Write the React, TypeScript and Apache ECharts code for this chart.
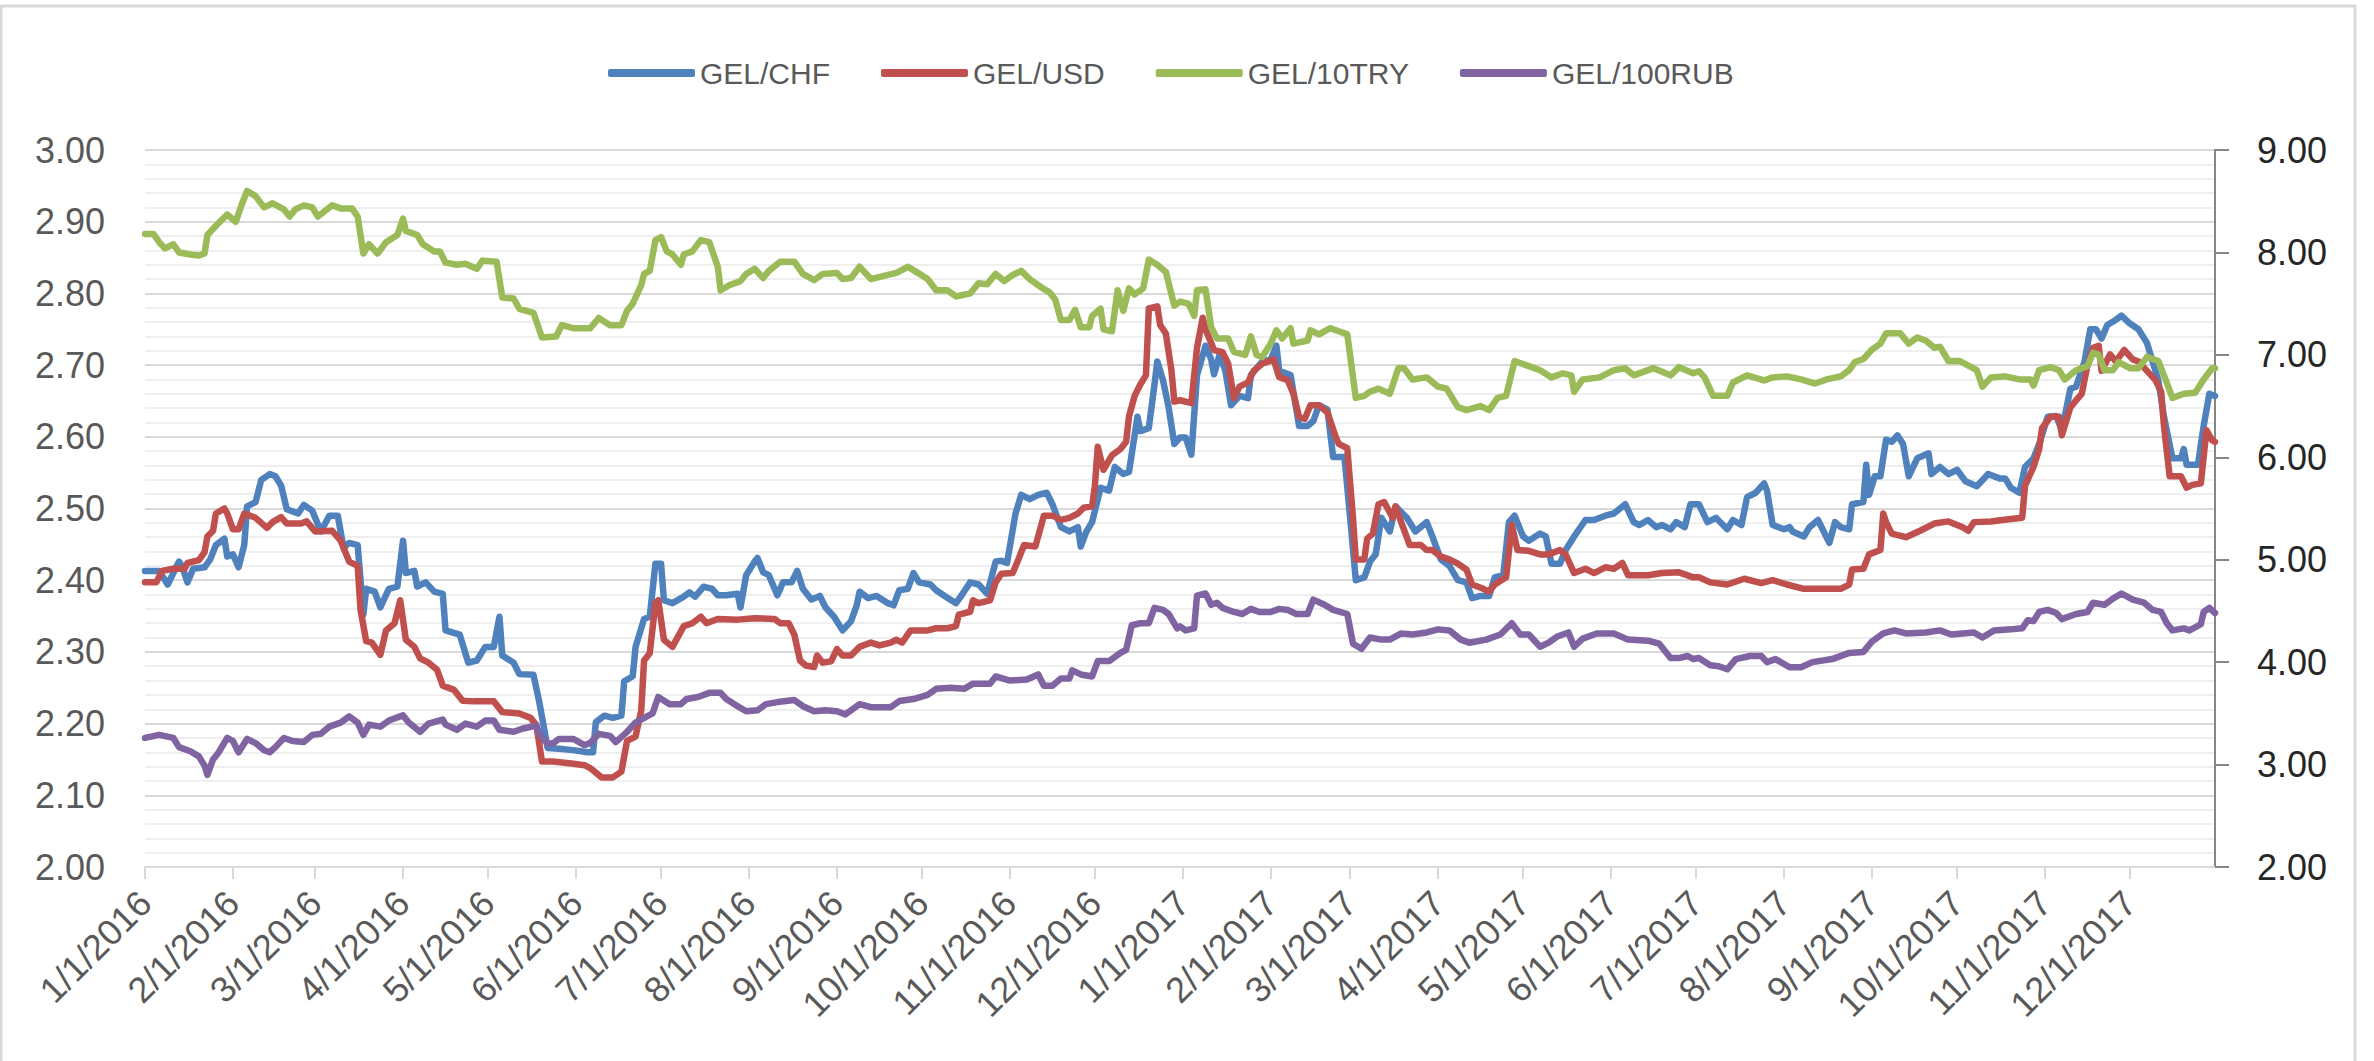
import React, { useEffect, useRef } from "react";
import * as echarts from "echarts";

// ---------- data ----------
// x positions are day offsets from 1/1/2016 (category index on the daily axis)
const START_UTC = Date.UTC(2016, 0, 1);
const DAY_COUNT = 731; // 1/1/2016 .. 12/31/2017

const SERIES_NAMES = ["GEL/CHF", "GEL/USD", "GEL/10TRY", "GEL/100RUB"];
const SERIES_COLORS = ["#4F81BD", "#C0504D", "#9BBB59", "#8064A2"];
const SERIES_AXIS = [0, 0, 1, 1]; // left axis for CHF & USD, right axis for 10TRY & 100RUB

const LEFT_MIN = 2.0, LEFT_MAX = 3.0, LEFT_STEP = 0.1;
const RIGHT_MIN = 2.0, RIGHT_MAX = 9.0, RIGHT_STEP = 1.0;

const CHF: [number, number][] = [
  [0,2.413],[5,2.413],[8,2.394],[10,2.41],[12,2.426],[13,2.42],[15,2.397],[17,2.416],[21,2.418],[23,2.429],
  [25,2.449],[28,2.458],[29,2.433],[31,2.436],[33,2.418],[35,2.449],[36,2.503],[39,2.509],[41,2.54],[44,2.548],
  [46,2.545],[48,2.532],[50,2.499],[54,2.493],[56,2.505],[59,2.497],[62,2.468],[65,2.49],[68,2.49],[70,2.445],
  [72,2.452],[75,2.449],[77,2.352],[78,2.388],[81,2.384],[83,2.362],[86,2.388],[89,2.391],[91,2.455],[92,2.41],
  [95,2.413],[96,2.391],[99,2.397],[102,2.384],[105,2.381],[106,2.33],[111,2.324],[114,2.285],[117,2.288],[120,2.307],
  [123,2.307],[125,2.349],[126,2.295],[130,2.285],[132,2.269],[137,2.268],[139,2.231],[142,2.166],[146,2.165],[151,2.163],
  [156,2.16],[158,2.16],[159,2.202],[162,2.211],[165,2.208],[168,2.211],[169,2.259],[172,2.266],[173,2.307],[176,2.346],
  [178,2.349],[180,2.423],[182,2.423],[183,2.372],[186,2.368],[190,2.377],[192,2.383],[194,2.377],[197,2.391],[200,2.388],
  [202,2.379],[205,2.379],[209,2.381],[210,2.362],[212,2.407],[215,2.426],[216,2.431],[218,2.411],[220,2.407],[223,2.379],
  [225,2.397],[228,2.397],[230,2.413],[232,2.388],[235,2.373],[238,2.378],[240,2.362],[243,2.349],[246,2.33],[249,2.343],
  [251,2.365],[252,2.384],[255,2.375],[258,2.378],[262,2.368],[264,2.365],[266,2.386],[269,2.388],[271,2.41],[273,2.397],
  [277,2.394],[279,2.386],[282,2.378],[286,2.368],[288,2.379],[291,2.397],[294,2.394],[297,2.381],[300,2.426],[302,2.427],
  [304,2.424],[307,2.493],[309,2.519],[312,2.513],[315,2.519],[318,2.522],[320,2.506],[323,2.474],[326,2.468],[329,2.474],
  [330,2.447],[332,2.468],[334,2.481],[337,2.529],[340,2.525],[342,2.558],[345,2.548],[347,2.551],[350,2.628],[351,2.608],
  [354,2.612],[356,2.673],[357,2.705],[359,2.679],[361,2.641],[363,2.59],[365,2.599],[367,2.599],[369,2.575],[371,2.686],
  [374,2.727],[376,2.708],[377,2.687],[379,2.715],[381,2.692],[383,2.644],[386,2.657],[389,2.654],[390,2.686],[394,2.705],
  [397,2.708],[399,2.727],[400,2.692],[404,2.686],[407,2.615],[410,2.615],[412,2.622],[414,2.644],[417,2.638],[419,2.572],
  [423,2.572],[425,2.487],[427,2.4],[430,2.404],[432,2.426],[434,2.436],[436,2.487],[439,2.468],[441,2.503],[445,2.487],
  [448,2.468],[452,2.481],[454,2.461],[457,2.429],[460,2.42],[463,2.4],[466,2.397],[468,2.375],[471,2.378],[474,2.378],
  [476,2.404],[479,2.407],[481,2.481],[483,2.49],[486,2.461],[488,2.455],[492,2.465],[494,2.461],[496,2.423],[499,2.423],
  [501,2.442],[504,2.461],[508,2.484],[511,2.484],[515,2.49],[518,2.493],[522,2.506],[525,2.481],[527,2.477],[530,2.484],
  [533,2.474],[535,2.477],[538,2.471],[540,2.481],[543,2.474],[545,2.506],[548,2.506],[551,2.481],[554,2.487],[558,2.471],
  [560,2.484],[563,2.477],[565,2.516],[568,2.522],[571,2.535],[572,2.525],[574,2.477],[578,2.471],[580,2.474],[581,2.468],
  [585,2.461],[587,2.474],[590,2.484],[594,2.452],[596,2.481],[598,2.474],[601,2.471],[602,2.506],[606,2.509],[607,2.561],
  [608,2.519],[610,2.545],[612,2.545],[614,2.596],[616,2.593],[618,2.602],[620,2.59],[622,2.545],[625,2.57],[629,2.577],
  [630,2.548],[633,2.558],[636,2.548],[639,2.554],[642,2.538],[646,2.531],[650,2.548],[654,2.542],[656,2.542],[658,2.529],
  [661,2.522],[663,2.558],[666,2.57],[668,2.59],[671,2.628],[674,2.629],[676,2.609],[679,2.667],[681,2.67],[684,2.705],
  [686,2.75],[688,2.75],[690,2.737],[692,2.756],[695,2.763],[697,2.769],[700,2.758],[703,2.75],[706,2.731],[708,2.705],
  [710,2.679],[712,2.628],[715,2.57],[718,2.57],[719,2.583],[720,2.561],[724,2.561],[726,2.615],[728,2.66],[730,2.657]
];

const USD: [number, number][] = [
  [0,2.397],[4,2.397],[6,2.413],[10,2.416],[14,2.416],[15,2.424],[19,2.428],[21,2.439],[22,2.461],[24,2.469],
  [25,2.493],[28,2.5],[29,2.493],[31,2.471],[33,2.471],[35,2.493],[39,2.487],[43,2.473],[45,2.481],[48,2.488],
  [50,2.479],[55,2.479],[57,2.482],[60,2.468],[66,2.469],[69,2.455],[72,2.426],[75,2.42],[76,2.359],[78,2.315],
  [80,2.313],[83,2.296],[85,2.33],[88,2.34],[90,2.372],[92,2.317],[95,2.307],[97,2.291],[100,2.285],[103,2.275],
  [105,2.253],[109,2.247],[112,2.232],[116,2.231],[123,2.231],[126,2.216],[132,2.214],[136,2.208],[138,2.198],[140,2.147],
  [144,2.147],[151,2.144],[155,2.142],[157,2.138],[161,2.125],[165,2.125],[168,2.133],[170,2.176],[173,2.182],[175,2.218],
  [176,2.288],[178,2.298],[180,2.368],[181,2.372],[183,2.317],[186,2.307],[190,2.336],[193,2.34],[196,2.349],[198,2.34],
  [202,2.346],[209,2.345],[215,2.347],[222,2.346],[224,2.34],[227,2.34],[229,2.324],[231,2.288],[233,2.281],[236,2.279],
  [237,2.295],[239,2.285],[242,2.287],[244,2.304],[246,2.295],[249,2.295],[252,2.307],[256,2.313],[259,2.309],[263,2.313],
  [265,2.317],[267,2.313],[270,2.33],[276,2.33],[279,2.333],[283,2.333],[286,2.336],[287,2.352],[291,2.356],[292,2.372],
  [294,2.368],[298,2.372],[300,2.397],[302,2.409],[306,2.41],[308,2.429],[310,2.449],[314,2.447],[317,2.49],[320,2.49],
  [323,2.484],[326,2.487],[329,2.493],[331,2.501],[334,2.503],[335,2.532],[336,2.586],[338,2.554],[341,2.574],[344,2.583],
  [346,2.593],[347,2.628],[349,2.657],[351,2.673],[353,2.686],[354,2.779],[357,2.782],[358,2.756],[360,2.744],[362,2.692],
  [363,2.649],[365,2.651],[369,2.647],[371,2.724],[373,2.766],[374,2.75],[377,2.721],[380,2.718],[382,2.702],[384,2.654],
  [386,2.67],[389,2.676],[391,2.692],[394,2.702],[398,2.708],[400,2.683],[403,2.679],[405,2.66],[407,2.628],[409,2.625],
  [411,2.644],[414,2.644],[417,2.634],[420,2.599],[421,2.59],[424,2.584],[426,2.487],[427,2.429],[430,2.429],[431,2.458],
  [433,2.465],[435,2.506],[437,2.509],[440,2.487],[441,2.503],[443,2.481],[446,2.449],[450,2.449],[452,2.442],[454,2.442],
  [457,2.433],[460,2.429],[463,2.423],[466,2.415],[468,2.394],[472,2.388],[474,2.384],[476,2.394],[480,2.404],[482,2.477],
  [484,2.442],[488,2.441],[492,2.436],[495,2.436],[499,2.442],[501,2.436],[504,2.41],[508,2.416],[511,2.41],[515,2.418],
  [518,2.416],[521,2.424],[523,2.407],[530,2.407],[535,2.41],[541,2.411],[546,2.404],[548,2.404],[552,2.397],[558,2.394],
  [564,2.402],[570,2.396],[574,2.4],[579,2.394],[585,2.388],[591,2.388],[598,2.388],[601,2.394],[602,2.415],[606,2.416],
  [608,2.436],[612,2.442],[613,2.493],[614,2.481],[616,2.465],[621,2.46],[626,2.469],[631,2.479],[636,2.482],[641,2.474],
  [643,2.469],[645,2.481],[651,2.482],[655,2.484],[662,2.487],[663,2.532],[666,2.558],[668,2.583],[669,2.612],[672,2.628],
  [675,2.628],[676,2.602],[679,2.641],[681,2.651],[683,2.66],[685,2.699],[687,2.724],[689,2.727],[690,2.692],[693,2.715],
  [695,2.705],[698,2.721],[701,2.708],[703,2.705],[706,2.692],[709,2.679],[711,2.663],[712,2.615],[714,2.545],[718,2.545],
  [720,2.529],[722,2.533],[725,2.535],[727,2.609],[729,2.595],[730,2.593]
];

const TRY10: [number, number][] = [
  [0,8.18],[3,8.18],[5,8.1],[7,8.04],[10,8.08],[12,8.0],[16,7.98],[19,7.97],[21,7.99],[22,8.17],
  [25,8.26],[29,8.37],[32,8.3],[34,8.46],[36,8.6],[39,8.55],[42,8.44],[45,8.48],[49,8.42],[51,8.35],
  [53,8.42],[56,8.46],[59,8.44],[61,8.35],[66,8.46],[69,8.43],[73,8.43],[75,8.35],[77,7.99],[79,8.08],
  [82,7.99],[85,8.1],[89,8.17],[91,8.33],[92,8.21],[96,8.17],[98,8.08],[102,8.01],[104,8.01],[106,7.9],
  [110,7.88],[113,7.89],[117,7.84],[119,7.92],[124,7.91],[126,7.56],[130,7.55],[132,7.45],[137,7.41],[140,7.17],
  [145,7.18],[147,7.29],[151,7.26],[157,7.26],[160,7.36],[164,7.29],[168,7.29],[170,7.43],[172,7.5],[175,7.68],
  [176,7.79],[178,7.82],[180,8.12],[182,8.15],[184,8.01],[186,7.98],[189,7.88],[190,7.98],[193,8.01],[196,8.12],
  [199,8.1],[202,7.86],[203,7.63],[206,7.68],[210,7.72],[212,7.79],[215,7.84],[218,7.75],[220,7.82],[224,7.91],
  [229,7.91],[232,7.79],[236,7.73],[239,7.79],[244,7.8],[246,7.74],[249,7.75],[252,7.86],[256,7.74],[262,7.78],
  [265,7.8],[269,7.86],[272,7.81],[276,7.74],[279,7.63],[283,7.63],[286,7.57],[291,7.6],[294,7.7],[297,7.69],
  [300,7.79],[303,7.72],[306,7.78],[309,7.82],[312,7.74],[316,7.66],[319,7.61],[321,7.54],[323,7.34],[326,7.34],
  [328,7.44],[330,7.27],[333,7.27],[334,7.38],[337,7.45],[338,7.25],[341,7.23],[343,7.63],[345,7.43],[347,7.65],
  [349,7.59],[352,7.65],[354,7.93],[357,7.88],[360,7.81],[363,7.48],[365,7.52],[368,7.5],[370,7.38],[371,7.63],
  [374,7.64],[376,7.27],[378,7.16],[382,7.16],[384,7.03],[388,7.0],[390,7.18],[392,7.0],[394,6.98],[397,7.11],
  [399,7.24],[401,7.16],[404,7.26],[405,7.11],[410,7.14],[411,7.24],[414,7.2],[418,7.26],[421,7.23],[424,7.2],
  [427,6.58],[430,6.6],[432,6.64],[435,6.67],[439,6.62],[442,6.87],[444,6.87],[447,6.76],[452,6.78],[456,6.69],
  [459,6.67],[463,6.49],[466,6.46],[471,6.5],[474,6.46],[477,6.58],[480,6.6],[483,6.94],[487,6.9],[492,6.85],
  [496,6.78],[500,6.82],[503,6.8],[504,6.64],[507,6.76],[513,6.78],[518,6.85],[522,6.87],[525,6.8],[532,6.87],
  [538,6.8],[541,6.88],[546,6.82],[548,6.84],[550,6.78],[553,6.6],[558,6.6],[560,6.73],[565,6.8],[571,6.75],
  [574,6.78],[579,6.79],[584,6.76],[589,6.72],[593,6.76],[598,6.79],[601,6.85],[603,6.93],[606,6.96],[609,7.05],
  [612,7.11],[614,7.21],[619,7.21],[622,7.11],[625,7.17],[628,7.14],[631,7.07],[633,7.08],[636,6.94],[640,6.94],
  [644,6.88],[646,6.85],[648,6.69],[651,6.78],[656,6.79],[661,6.76],[665,6.76],[666,6.7],[668,6.85],[672,6.88],
  [675,6.85],[677,6.76],[681,6.85],[685,6.89],[687,7.02],[689,7.0],[691,6.85],[694,6.85],[696,6.93],[700,6.87],
  [703,6.87],[706,6.98],[710,6.94],[712,6.8],[715,6.58],[719,6.62],[723,6.63],[726,6.76],[729,6.87],[730,6.87]
];

const RUB100: [number, number][] = [
  [0,3.26],[5,3.29],[10,3.26],[12,3.17],[16,3.13],[19,3.08],[21,2.99],[22,2.9],[24,3.05],[26,3.12],
  [29,3.26],[31,3.23],[33,3.12],[36,3.25],[39,3.21],[42,3.14],[44,3.12],[46,3.17],[49,3.26],[52,3.23],
  [56,3.22],[59,3.29],[62,3.3],[65,3.37],[69,3.41],[72,3.47],[75,3.41],[77,3.29],[79,3.39],[83,3.37],
  [86,3.43],[91,3.48],[93,3.41],[97,3.32],[100,3.4],[105,3.44],[106,3.39],[110,3.34],[113,3.4],[117,3.37],
  [120,3.43],[123,3.43],[125,3.34],[130,3.32],[133,3.35],[138,3.38],[139,3.3],[142,3.2],[144,3.21],[146,3.25],
  [151,3.25],[155,3.19],[157,3.21],[160,3.3],[164,3.28],[166,3.22],[170,3.32],[173,3.41],[177,3.47],[179,3.5],
  [181,3.66],[185,3.59],[189,3.59],[191,3.64],[195,3.66],[199,3.7],[203,3.7],[205,3.64],[209,3.57],[212,3.52],
  [216,3.53],[219,3.59],[223,3.61],[229,3.63],[232,3.57],[236,3.52],[240,3.53],[244,3.52],[247,3.49],[252,3.59],
  [256,3.56],[263,3.56],[266,3.62],[271,3.64],[276,3.68],[279,3.74],[284,3.75],[289,3.74],[292,3.79],[298,3.79],
  [300,3.86],[305,3.82],[311,3.83],[315,3.88],[317,3.77],[320,3.77],[323,3.84],[326,3.84],[327,3.92],[330,3.88],
  [334,3.86],[336,4.01],[340,4.01],[344,4.09],[346,4.12],[348,4.36],[351,4.38],[354,4.38],[356,4.53],[359,4.51],
  [361,4.47],[364,4.33],[365,4.35],[367,4.31],[370,4.33],[371,4.65],[374,4.67],[376,4.56],[378,4.58],[380,4.53],
  [384,4.49],[387,4.47],[390,4.52],[393,4.49],[397,4.49],[400,4.52],[403,4.51],[406,4.47],[410,4.47],[412,4.61],
  [416,4.56],[419,4.51],[424,4.47],[426,4.18],[429,4.13],[432,4.24],[436,4.22],[439,4.22],[443,4.28],[447,4.27],
  [452,4.29],[456,4.32],[460,4.31],[464,4.22],[467,4.19],[473,4.22],[478,4.27],[482,4.38],[485,4.27],[488,4.27],
  [492,4.15],[495,4.19],[498,4.25],[502,4.29],[504,4.15],[507,4.23],[512,4.28],[518,4.28],[523,4.22],[530,4.21],
  [534,4.18],[538,4.04],[541,4.04],[544,4.06],[546,4.03],[548,4.04],[552,3.97],[555,3.96],[558,3.93],[561,4.03],
  [566,4.06],[570,4.06],[572,4.0],[575,4.03],[580,3.95],[584,3.95],[588,4.0],[595,4.03],[601,4.09],[606,4.1],
  [609,4.2],[613,4.28],[617,4.31],[621,4.28],[628,4.29],[633,4.31],[637,4.27],[641,4.28],[645,4.29],[648,4.24],
  [652,4.31],[658,4.32],[662,4.33],[664,4.41],[666,4.4],[668,4.49],[671,4.51],[674,4.48],[676,4.42],[681,4.47],
  [685,4.49],[687,4.58],[691,4.56],[694,4.62],[697,4.67],[701,4.61],[705,4.58],[708,4.51],[711,4.49],[713,4.38],
  [715,4.31],[719,4.33],[721,4.31],[725,4.37],[726,4.49],[728,4.53],[730,4.48]
];

const SERIES_DATA = [CHF, USD, TRY10, RUB100];

// daily categories, labels in M/D/YYYY
const CATEGORIES: string[] = Array.from({ length: DAY_COUNT }, (_, i) => {
  const d = new Date(START_UTC + i * 86400000);
  return `${d.getUTCMonth() + 1}/${d.getUTCDate()}/${d.getUTCFullYear()}`;
});

const FONT = "'Liberation Sans', Arial, sans-serif";
const isMonthStart = (_i: number, v: string) => v.split("/")[1] === "1";

export default function App() {
  const ref = useRef<HTMLDivElement>(null);

  useEffect(() => {
    if (!ref.current) return;
    const chart = echarts.init(ref.current, null, { renderer: "svg" });
    chart.setOption({
      animation: false,
      backgroundColor: "#ffffff",
      textStyle: { fontFamily: FONT },
      graphic: [
        {
          type: "rect",
          shape: { x: 1, y: 6, width: 2354, height: 1100 },
          style: { fill: "none", stroke: "#D9D9D9", lineWidth: 3 },
          silent: true,
        },
      ],
      legend: {
        data: SERIES_NAMES,
        left: 603,
        top: 53,
        icon: "roundRect",
        itemWidth: 87,
        itemHeight: 8,
        itemGap: 51,
        textStyle: { fontSize: 30, color: "#595959", fontFamily: FONT },
      },
      grid: { left: 145, right: 159, top: 150, bottom: 194 },
      xAxis: {
        type: "category",
        data: CATEGORIES,
        boundaryGap: false,
        axisLine: { show: true, lineStyle: { color: "#D9D9D9", width: 2 } },
        axisTick: { show: true, interval: isMonthStart, length: 12, lineStyle: { color: "#D9D9D9", width: 2 } },
        axisLabel: {
          interval: isMonthStart,
          rotate: 45,
          fontSize: 36,
          color: "#595959",
          margin: 30,
          fontFamily: FONT,
        },
        splitLine: { show: false },
      },
      yAxis: [
        {
          type: "value",
          position: "left",
          min: LEFT_MIN,
          max: LEFT_MAX,
          interval: LEFT_STEP,
          axisLine: { show: false },
          axisTick: { show: false },
          axisLabel: {
            fontSize: 36,
            color: "#595959",
            margin: 40,
            fontFamily: FONT,
            formatter: (v: number) => v.toFixed(2),
          },
          splitLine: { show: true, lineStyle: { color: "#D9D9D9", width: 2 } },
          minorTick: { show: false, splitNumber: 5 },
          minorSplitLine: { show: true, lineStyle: { color: "#EFEFEF", width: 2 } },
        },
        {
          type: "value",
          position: "right",
          min: RIGHT_MIN,
          max: RIGHT_MAX,
          interval: RIGHT_STEP,
          axisLine: { show: true, lineStyle: { color: "#868686", width: 2 } },
          axisTick: { show: true, length: 14, lineStyle: { color: "#868686", width: 2 } },
          axisLabel: {
            fontSize: 36,
            color: "#262626",
            margin: 42,
            fontFamily: FONT,
            formatter: (v: number) => v.toFixed(2),
          },
          splitLine: { show: false },
        },
      ],
      series: SERIES_NAMES.map((name, i) => ({
        name,
        type: "line",
        yAxisIndex: SERIES_AXIS[i],
        data: SERIES_DATA[i],
        showSymbol: false,
        symbol: "none",
        smooth: false,
        lineStyle: { width: 6.5, color: SERIES_COLORS[i], cap: "round", join: "round" },
        itemStyle: { color: SERIES_COLORS[i] },
        emphasis: { disabled: true },
      })),
    });
    return () => chart.dispose();
  }, []);

  return (
    <div
      ref={ref}
      style={{ position: "absolute", left: 0, top: 0, width: 2374, height: 1061, background: "#fff" }}
    />
  );
}
